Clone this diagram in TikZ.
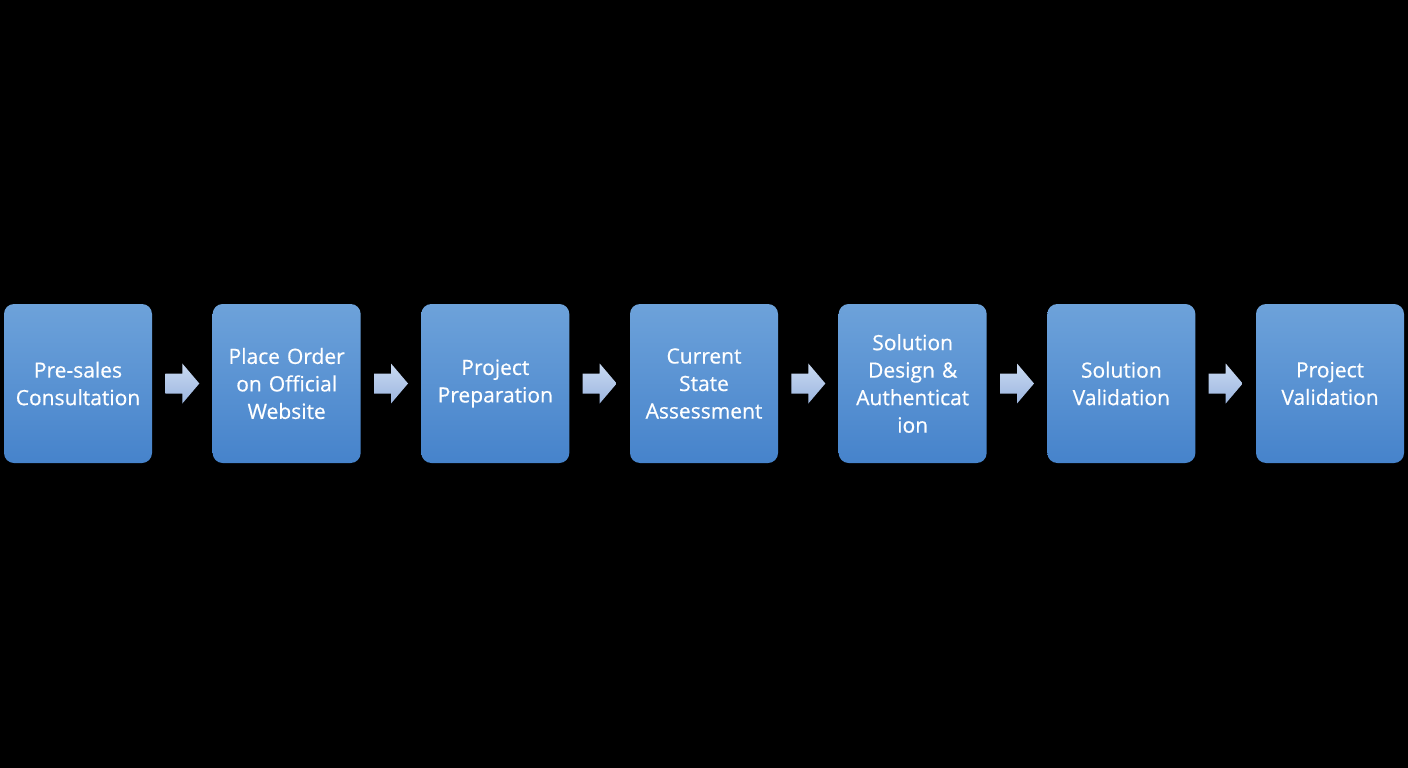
\documentclass[tikz,border=0pt]{standalone}
\usepackage{fontspec}
\setmainfont{Open Sans}
\newfontfamily\boxfont{Open Sans}[FakeBold=0.5]
\usetikzlibrary{calc}
\definecolor{boxtop}{HTML}{6DA2DA}
\definecolor{boxbot}{HTML}{4683CB}
\definecolor{arrtop}{HTML}{C9D9F1}
\definecolor{arrbot}{HTML}{9CB6E0}
\tikzset{
  stepbox/.style={rounded corners=10pt, minimum width=148pt, minimum height=159pt,
    top color=boxtop, bottom color=boxbot, draw=none, text=white, align=center,
    font=\boxfont\fontsize{21}{27.5}\selectfont, inner sep=0pt, text width=146pt},
  blockarrow/.style={top color=arrtop, bottom color=arrbot, draw=none}
}
\begin{document}
\begin{tikzpicture}[x=1pt,y=-1pt]
\fill[black] (0,0) rectangle (1408,768);
\useasboundingbox (0,0) rectangle (1408,768);
\foreach \i/\t in {1/{Pre-sales\\Consultation},
                   2/{Place Order\\on Official\\Website},
                   3/{Project\\Preparation},
                   4/{Current\\State\\Assessment},
                   5/{Solution\\Design \&\\Authenticat\\ion},
                   6/{Solution\\Validation},
                   7/{Project\\Validation}}{
  \node[stepbox] (b\i) at ({78+208.67*(\i-1)},383.5) {\t};
}
\foreach \i [evaluate=\i as \j using int(\i+1)] in {1,...,6}{
  \path (b\i.east) -- (b\j.west) coordinate[midway] (m\i);
  \path[blockarrow] ($(m\i)+(-17,-10)$) -- ($(m\i)+(0,-10)$) -- ($(m\i)+(0,-20)$)
     -- ($(m\i)+(17,0)$) -- ($(m\i)+(0,20)$) -- ($(m\i)+(0,10)$) -- ($(m\i)+(-17,10)$) -- cycle;
}
\end{tikzpicture}
\end{document}
